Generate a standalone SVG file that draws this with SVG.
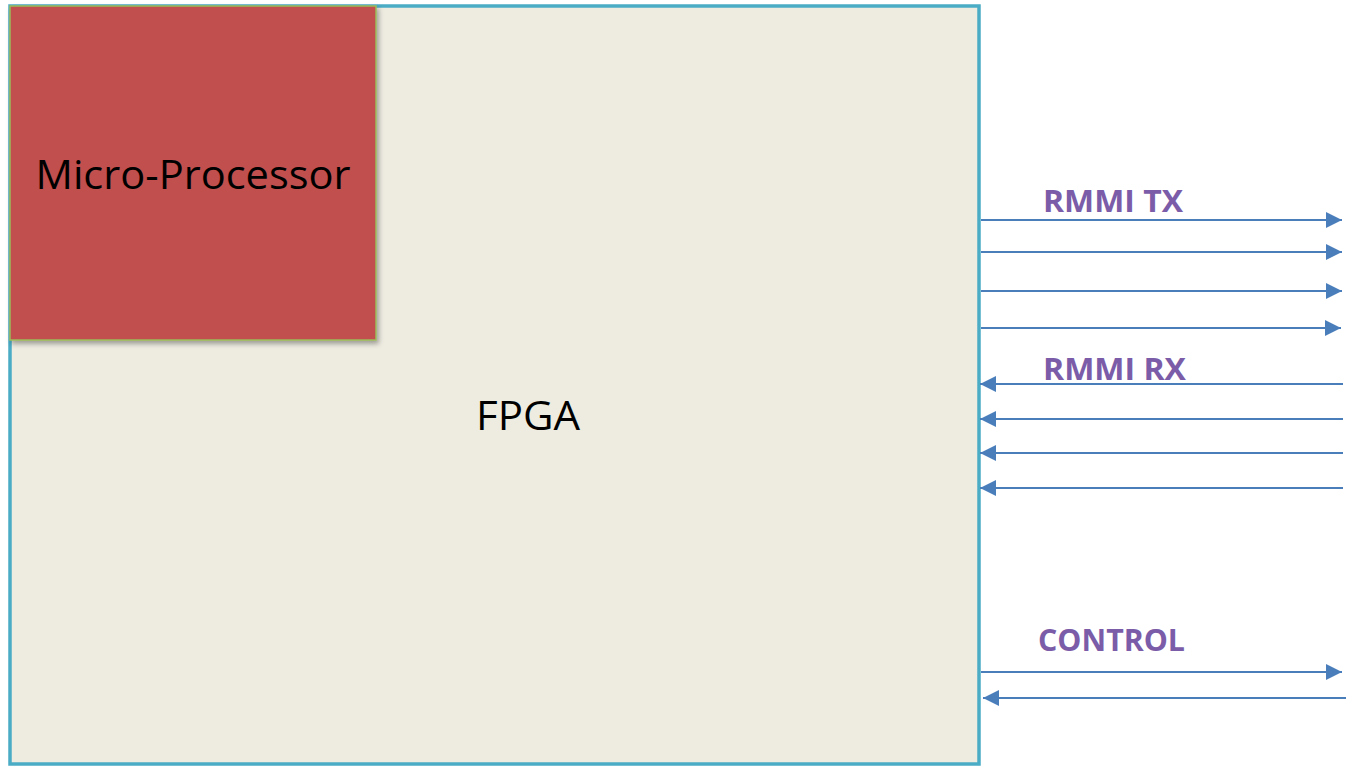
<svg xmlns="http://www.w3.org/2000/svg" width="1346" height="767" viewBox="0 0 1346 767">
<style>
.lbl{font-family:"Open Sans","Liberation Sans",sans-serif;font-weight:bold;fill:#7B5CA8;font-size:31px}
.big{font-family:"Open Sans","Liberation Sans",sans-serif;fill:#000;font-size:40px}
.wire{stroke:#4A7EBB;stroke-width:2;fill:none}
</style>
<defs>
<marker id="ah" viewBox="0 0 10 10" refX="10" refY="5" markerWidth="8" markerHeight="8" markerUnits="strokeWidth" orient="auto">
<path d="M0,0 L10,5 L0,10 z" fill="#4A7EBB"/>
</marker>
<filter id="sh" x="-5%" y="-5%" width="115%" height="115%">
<feDropShadow dx="2" dy="3" stdDeviation="2.5" flood-color="#000" flood-opacity="0.35"/>
</filter>
</defs>
<rect width="1346" height="767" fill="#fff"/>
<g id="fpga">
<rect x="10" y="6" width="969" height="758" fill="#EEECE1" stroke="#4BACC6" stroke-width="3.5"/>
<text class="big" x="528" y="430" text-anchor="middle" textLength="104" lengthAdjust="spacingAndGlyphs">FPGA</text>
</g>
<g id="microprocessor">
<rect x="10" y="6" width="366" height="334" fill="#C0504D" stroke="#9BBB59" stroke-width="1.5" filter="url(#sh)"/>
<text class="big" x="193" y="189" text-anchor="middle" textLength="315" lengthAdjust="spacingAndGlyphs">Micro-Processor</text>
</g>
<g id="connectors">
<line class="wire" x1="981" y1="220" x2="1342" y2="220" marker-end="url(#ah)"/>
<line class="wire" x1="981" y1="252" x2="1342" y2="252" marker-end="url(#ah)"/>
<line class="wire" x1="981" y1="291" x2="1342" y2="291" marker-end="url(#ah)"/>
<line class="wire" x1="981" y1="328" x2="1341" y2="328" marker-end="url(#ah)"/>
<line class="wire" x1="1343" y1="384" x2="980" y2="384" marker-end="url(#ah)"/>
<line class="wire" x1="1343" y1="419" x2="980" y2="419" marker-end="url(#ah)"/>
<line class="wire" x1="1343" y1="453" x2="980" y2="453" marker-end="url(#ah)"/>
<line class="wire" x1="1343" y1="488" x2="980" y2="488" marker-end="url(#ah)"/>
<line class="wire" x1="981" y1="672" x2="1342" y2="672" marker-end="url(#ah)"/>
<line class="wire" x1="1346" y1="698" x2="983" y2="698" marker-end="url(#ah)"/>
</g>
<g id="labels">
<text class="lbl" x="1043" y="212" textLength="140" lengthAdjust="spacingAndGlyphs">RMMI TX</text>
<text class="lbl" x="1043" y="380" textLength="143" lengthAdjust="spacingAndGlyphs">RMMI RX</text>
<text class="lbl" x="1038" y="651" textLength="147" lengthAdjust="spacingAndGlyphs">CONTROL</text>
</g>
</svg>
